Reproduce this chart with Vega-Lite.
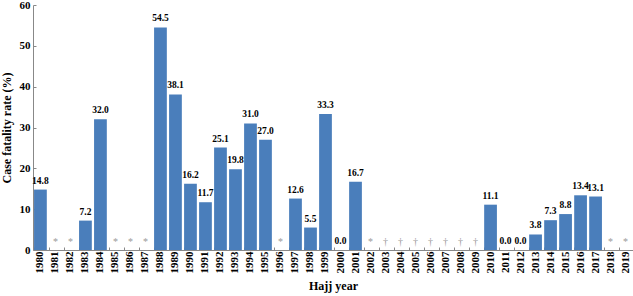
{
  "$schema": "https://vega.github.io/schema/vega-lite/v6.json",
  "width": 600,
  "height": 245,
  "autosize": {"type": "none"},
  "padding": {"left": 33, "top": 5, "right": 0, "bottom": 46},
  "config": {"view": {"stroke": null}, "font": "Liberation Serif"},
  "data": {"values": [
    {"year": "1980", "rate": 14.8, "marker": ""},
    {"year": "1981", "rate": null, "marker": "*"},
    {"year": "1982", "rate": null, "marker": "*"},
    {"year": "1983", "rate": 7.2, "marker": ""},
    {"year": "1984", "rate": 32.0, "marker": ""},
    {"year": "1985", "rate": null, "marker": "*"},
    {"year": "1986", "rate": null, "marker": "*"},
    {"year": "1987", "rate": null, "marker": "*"},
    {"year": "1988", "rate": 54.5, "marker": ""},
    {"year": "1989", "rate": 38.1, "marker": ""},
    {"year": "1990", "rate": 16.2, "marker": ""},
    {"year": "1991", "rate": 11.7, "marker": ""},
    {"year": "1992", "rate": 25.1, "marker": ""},
    {"year": "1993", "rate": 19.8, "marker": ""},
    {"year": "1994", "rate": 31.0, "marker": ""},
    {"year": "1995", "rate": 27.0, "marker": ""},
    {"year": "1996", "rate": null, "marker": "*"},
    {"year": "1997", "rate": 12.6, "marker": ""},
    {"year": "1998", "rate": 5.5, "marker": ""},
    {"year": "1999", "rate": 33.3, "marker": ""},
    {"year": "2000", "rate": 0.0, "marker": ""},
    {"year": "2001", "rate": 16.7, "marker": ""},
    {"year": "2002", "rate": null, "marker": "*"},
    {"year": "2003", "rate": null, "marker": "†"},
    {"year": "2004", "rate": null, "marker": "†"},
    {"year": "2005", "rate": null, "marker": "†"},
    {"year": "2006", "rate": null, "marker": "†"},
    {"year": "2007", "rate": null, "marker": "†"},
    {"year": "2008", "rate": null, "marker": "†"},
    {"year": "2009", "rate": null, "marker": "†"},
    {"year": "2010", "rate": 11.1, "marker": ""},
    {"year": "2011", "rate": 0.0, "marker": ""},
    {"year": "2012", "rate": 0.0, "marker": ""},
    {"year": "2013", "rate": 3.8, "marker": ""},
    {"year": "2014", "rate": 7.3, "marker": ""},
    {"year": "2015", "rate": 8.8, "marker": ""},
    {"year": "2016", "rate": 13.4, "marker": ""},
    {"year": "2017", "rate": 13.1, "marker": ""},
    {"year": "2018", "rate": null, "marker": "*"},
    {"year": "2019", "rate": null, "marker": "*"}
  ]},
  "encoding": {
    "x": {
      "field": "year", "type": "nominal", "sort": null,
      "scale": {
        "domain": ["1980","1981","1982","1983","1984","1985","1986","1987","1988","1989","1990","1991","1992","1993","1994","1995","1996","1997","1998","1999","2000","2001","2002","2003","2004","2005","2006","2007","2008","2009","2010","2011","2012","2013","2014","2015","2016","2017","2018","2019"],
        "paddingInner": 0.15, "paddingOuter": 0.07
      },
      "axis": {
        "title": "Hajj year", "titleFont": "Liberation Serif", "titleFontSize": 12, "titleFontWeight": "bold",
        "titlePadding": 7, "titleColor": "#000",
        "labelAngle": -90, "labelFont": "Liberation Serif", "labelFontSize": 11, "labelFontWeight": "bold",
        "labelColor": "#000", "labelPadding": 4,
        "bandPosition": 0, "tickSize": -3, "tickColor": "#888", "domainColor": "#888", "grid": false
      }
    }
  },
  "layer": [
    {
      "mark": {"type": "bar", "color": "#4a7ebb"},
      "encoding": {
        "y": {
          "field": "rate", "type": "quantitative",
          "scale": {"domain": [0, 60]},
          "axis": {
            "title": "Case fatality rate (%)", "titleFont": "Liberation Serif", "titleFontSize": 12,
            "titleFontWeight": "bold", "titleColor": "#000", "titlePadding": 6,
            "values": [0, 10, 20, 30, 40, 50, 60],
            "labelFont": "Liberation Serif", "labelFontSize": 11, "labelFontWeight": "bold", "labelColor": "#000",
            "labelPadding": 6, "tickSize": -3, "tickColor": "#888", "domainColor": "#888", "grid": false
          }
        }
      }
    },
    {
      "transform": [{"filter": "datum.rate != null"}],
      "mark": {"type": "text", "baseline": "bottom", "dy": -4, "font": "Liberation Serif", "fontSize": 9.5, "fontWeight": "bold", "color": "#000"},
      "encoding": {
        "y": {"field": "rate", "type": "quantitative"},
        "text": {"field": "rate", "type": "quantitative", "format": ".1f"}
      }
    },
    {
      "transform": [{"filter": "datum.marker != ''"}],
      "mark": {"type": "text", "baseline": "bottom", "dy": -3, "font": "Liberation Serif", "fontSize": 10, "color": "#999"},
      "encoding": {
        "y": {"datum": 0},
        "text": {"field": "marker", "type": "nominal"}
      }
    }
  ]
}
